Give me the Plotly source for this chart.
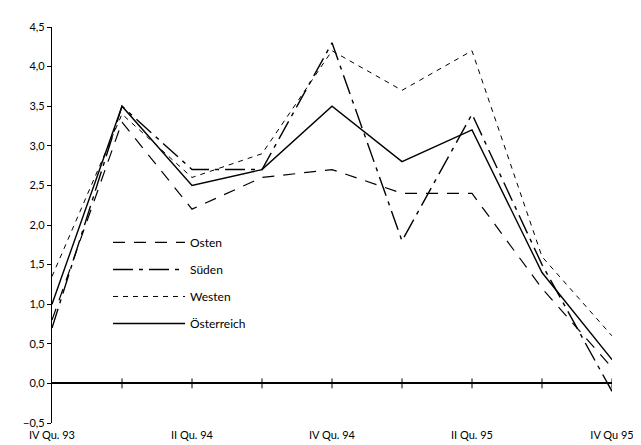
import plotly.graph_objects as go

quarters = ["IV Qu. 93", "I Qu. 94", "II Qu. 94", "III Qu. 94", "IV Qu. 94",
            "I Qu. 95", "II Qu. 95", "III Qu. 95", "IV Qu 95"]
label_positions = [0, 2, 4, 6, 8]
label_texts = ["IV Qu. 93", "II Qu. 94", "IV Qu. 94", "II Qu. 95", "IV Qu 95"]

osten = [0.8, 3.3, 2.2, 2.6, 2.7, 2.4, 2.4, 1.2, 0.2]
sueden = [0.7, 3.5, 2.7, 2.7, 4.3, 1.8, 3.4, 1.5, -0.1]
westen = [1.35, 3.4, 2.6, 2.9, 4.2, 3.7, 4.2, 1.6, 0.6]
oesterreich = [1.0, 3.5, 2.5, 2.7, 3.5, 2.8, 3.2, 1.4, 0.3]

series_names = ["Osten", "Süden", "Westen", "Österreich"]
series_values = [osten, sueden, westen, oesterreich]
series_dash = ["12px,9px", "20px,6px,4px,6px", "5px,5px", "solid"]
series_width = [1.2, 1.4, 1.0, 1.4]

xidx = list(range(len(quarters)))
font = "Lato, 'DejaVu Sans', sans-serif"

fig = go.Figure()
for name, vals, dash, w in zip(series_names, series_values, series_dash, series_width):
    fig.add_trace(go.Scatter(
        x=xidx, y=vals, mode="lines", name=name, legendgroup=name,
        line=dict(color="black", width=w, dash=dash),
    ))

# small tick marks on the zero line
fig.add_trace(go.Scatter(
    x=xidx[1:], y=[0] * (len(xidx) - 1), mode="markers", showlegend=False,
    hoverinfo="skip",
    marker=dict(symbol="line-ns-open", size=7, color="black",
                line=dict(color="black", width=1)),
))

fig.update_layout(
    width=641, height=445, autosize=False,
    margin=dict(l=44, r=37, t=19, b=28),
    paper_bgcolor="white", plot_bgcolor="white",
    separators=",.",
    font=dict(family=font, size=11, color="black"),
    legend=dict(
        x=0.1, y=0.4925, xanchor="left", yanchor="top",
        bgcolor="rgba(0,0,0,0)", itemwidth=72, tracegroupgap=8,
        font=dict(family=font, size=12, color="black"),
    ),
    xaxis=dict(
        range=[0, 8], tickmode="array", tickvals=label_positions, ticktext=label_texts,
        showgrid=False, zeroline=False, showline=False, ticks="",
        ticklabelstandoff=4,
        tickfont=dict(family=font, size=11),
    ),
    yaxis=dict(
        range=[-0.5, 4.5], dtick=0.5, tick0=0, tickformat=".1f",
        showgrid=False, showline=True, linecolor="black", linewidth=1.2,
        ticks="outside", ticklen=4, tickcolor="black",
        zeroline=True, zerolinecolor="black", zerolinewidth=1.5,
        tickfont=dict(family=font, size=11),
    ),
)

fig.write_html("out.html")
